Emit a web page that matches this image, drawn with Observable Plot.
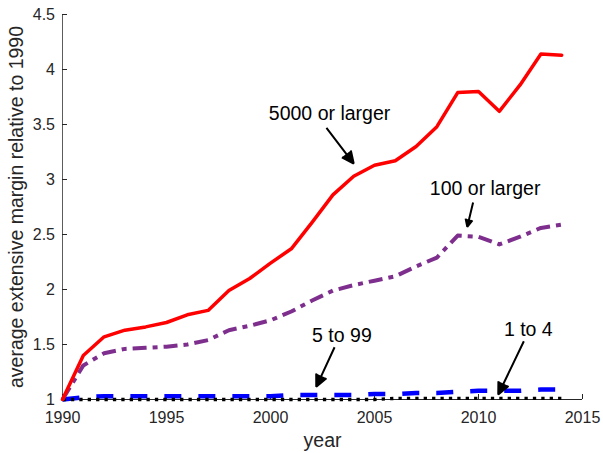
<!DOCTYPE html>
<html>
<head>
<meta charset="utf-8">
<script src="https://cdn.jsdelivr.net/npm/d3@7"></script>
<script src="https://cdn.jsdelivr.net/npm/@observablehq/plot@0.6"></script>
<style>
  html, body { margin: 0; padding: 0; background: #fff; }
</style>
</head>
<body>
<div id="chart"></div>
<script>
// Average extensive margin relative to 1990, by firm-size class
const years = [1990, 1991, 1992, 1993, 1994, 1995, 1996, 1997, 1998, 1999, 2000, 2001, 2002,
               2003, 2004, 2005, 2006, 2007, 2008, 2009, 2010, 2011, 2012, 2013, 2014];
const size5000plus = [1.00, 1.40, 1.57, 1.63, 1.66, 1.70, 1.77, 1.81, 1.99, 2.10, 2.24, 2.37, 2.61,
                      2.86, 3.03, 3.13, 3.17, 3.30, 3.48, 3.79, 3.80, 3.62, 3.86, 4.14, 4.13];
const size100plus = [1.00, 1.31, 1.42, 1.46, 1.47, 1.48, 1.50, 1.54, 1.63, 1.67, 1.72, 1.80, 1.90,
                     1.99, 2.04, 2.08, 2.12, 2.21, 2.29, 2.49, 2.48, 2.41, 2.48, 2.56, 2.59];
const size5to99 = [1.00, 1.02, 1.03, 1.03, 1.03, 1.03, 1.03, 1.03, 1.03, 1.03, 1.03, 1.04, 1.04,
                   1.04, 1.04, 1.05, 1.05, 1.06, 1.06, 1.07, 1.08, 1.08, 1.08, 1.09, 1.09];
const size1to4 = [1.00, 1.00, 1.00, 1.00, 1.00, 1.00, 1.00, 1.00, 1.00, 1.00, 1.00, 1.00, 1.00,
                  1.00, 1.00, 1.00, 1.01, 1.01, 1.01, 1.01, 1.01, 1.01, 1.01, 1.01, 1.01];

const xTicks = [1990, 1995, 2000, 2005, 2010, 2015];
const yTicks = [1, 1.5, 2, 2.5, 3, 3.5, 4, 4.5];

// Callouts: label position and arrow from (ax1, ay1) to (ax2, ay2), in data units
const calloutLabels = ["5000 or larger", "100 or larger", "5 to 99", "1 to 4"];
const calloutTextX = [1999.92, 2007.66, 2002.0, 2011.22];
const calloutTextY = [3.60, 2.92, 1.58, 1.63];
const arrowX1 = [2002.69, 2009.74, 2003.08, 2012.18];
const arrowY1 = [3.47, 2.79, 1.475, 1.53];
const arrowX2 = [2004.0, 2009.46, 2002.2, 2010.95];
const arrowY2 = [3.145, 2.57, 1.115, 1.045];

const series = (vals) => years.map((year, i) => ({year, value: vals[i]}));
const callouts = calloutLabels.map((label, i) => ({
  label, tx: calloutTextX[i], ty: calloutTextY[i],
  x1: arrowX1[i], y1: arrowY1[i], x2: arrowX2[i], y2: arrowY2[i]
}));

const font = "'Liberation Sans', Arial, Helvetica, sans-serif";
const axisColor = "#262626";

const chart = Plot.plot({
  width: 603,
  height: 453,
  marginLeft: 62,
  marginRight: 21,
  marginTop: 14,
  marginBottom: 54,
  style: {fontFamily: font, fontSize: "16px", color: axisColor, background: "#fff"},
  x: {domain: [1990, 2015]},
  y: {domain: [1, 4.5]},
  marks: [
    // axis lines (left and bottom only)
    Plot.ruleX([1990], {stroke: axisColor, strokeWidth: 1, strokeOpacity: 0.75}),
    Plot.ruleY([1], {stroke: axisColor, strokeWidth: 1}),
    Plot.axisX({ticks: xTicks, tickFormat: "d", tickSize: -5, tickPadding: 17.4, label: null,
                stroke: axisColor, fill: axisColor}),
    Plot.axisY({ticks: yTicks, tickFormat: (d) => String(d), tickSize: -5, tickPadding: 12.5, label: null,
                stroke: axisColor, fill: axisColor}),
    // series
    Plot.line(series(size5to99), {x: "year", y: "value", stroke: "#0000ff", strokeWidth: 4.5,
      strokeDasharray: "17,17", strokeLinecap: "butt"}),
    Plot.line(series(size1to4), {x: "year", y: "value", stroke: "#000000", strokeWidth: 3.3,
      strokeDasharray: "3.3,5.1", strokeLinecap: "butt"}),
    Plot.line(series(size100plus), {x: "year", y: "value", stroke: "#7E2F8E", strokeWidth: 4,
      strokeDasharray: "14,6,5,6", strokeLinecap: "butt"}),
    Plot.line(series(size5000plus), {x: "year", y: "value", stroke: "#ff0000", strokeWidth: 3.5,
      strokeLinejoin: "round"}),
    // callouts
    Plot.arrow(callouts, {x1: "x1", y1: "y1", x2: "x2", y2: "y2", stroke: "#000", fill: "#000",
      strokeWidth: 2, headLength: 10, headAngle: 50, strokeLinejoin: "miter", strokeLinecap: "butt"}),
    Plot.text(callouts, {x: "tx", y: "ty", text: "label", textAnchor: "start", lineAnchor: "middle",
      fontSize: 19.5, fill: "#000"}),
    // axis titles
    Plot.text(["year"], {frameAnchor: "bottom", text: (d) => d, textAnchor: "middle", lineAnchor: "top",
      dy: 34, fontSize: 19.5, fill: axisColor}),
    Plot.text(["average extensive margin relative to 1990"], {frameAnchor: "left", text: (d) => d,
      rotate: -90, textAnchor: "middle", lineAnchor: "top", dx: -53.7, fontSize: 19.5, fill: axisColor})
  ]
});

document.getElementById("chart").appendChild(chart);
</script>
</body>
</html>
